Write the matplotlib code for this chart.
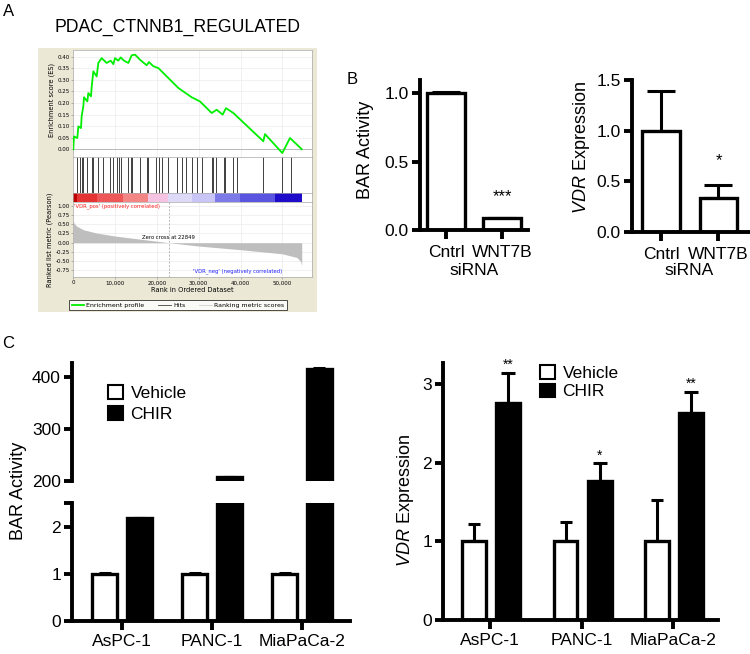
import numpy as np
import matplotlib.pyplot as plt
from matplotlib.patches import Rectangle, Patch
from matplotlib.lines import Line2D
from matplotlib.ticker import FuncFormatter

plt.rcParams['font.family'] = 'Liberation Sans'
plt.rcParams['mathtext.fontset'] = 'custom'
plt.rcParams['mathtext.it'] = 'Liberation Sans:italic'
plt.rcParams['mathtext.rm'] = 'Liberation Sans'

# ---- panel A: GSEA enrichment plot ----
es_rank = [0, 168, 965, 1204, 1843, 2002, 2400, 2560, 3357, 3596,
           4234, 4393, 4792, 5590, 5988, 6785, 7981, 8938, 9576, 9975,
           10772, 11331, 12128, 13164, 13961, 14759, 15955, 17549, 18107, 19144,
           20340, 25124, 28313, 30306, 33098, 34294, 35729, 36526, 38280, 45456,
           45855, 50000, 51834, 54626]
es_score = [0.0, 0.056, 0.049, 0.099, 0.092, 0.143, 0.186, 0.225, 0.207, 0.243,
            0.229, 0.268, 0.337, 0.315, 0.373, 0.394, 0.373, 0.383, 0.368, 0.394,
            0.383, 0.397, 0.383, 0.373, 0.406, 0.409, 0.387, 0.363, 0.377, 0.359,
            0.351, 0.265, 0.225, 0.207, 0.157, 0.171, 0.150, 0.178, 0.157, 0.035,
            0.066, -0.016, 0.049, 0.001]
hit_rank = [965, 1603, 2002, 2400, 3198, 4393, 4633, 5988, 7184, 8779,
            9576, 10373, 11012, 11331, 13164, 13802, 14121, 15955, 17709, 17948,
            19782, 20579, 21137, 22732, 24726, 25922, 26958, 28313, 29509, 30705,
            33098, 33496, 34134, 36048, 36287, 38280, 39077, 45456, 50000, 51994]
metric_rank = [0, 200, 800, 2400, 5600, 10000, 15000, 20000, 22849,
               30000, 40000, 50000, 53500, 54400, 54640]
metric_value = [0.60, 0.52, 0.45, 0.35, 0.26, 0.18, 0.11, 0.04, 0.0,
                -0.09, -0.19, -0.30, -0.40, -0.51, -0.62]
band_edges = [0, 805, 5590, 11969, 17948, 22732, 28313, 33895, 39874, 48246, 54626]
band_colors = ['#c00000', '#e33333', '#ee5757', '#f48585', '#f7c3e3',
               '#dcdaf7', '#c9c6f7', '#7c79e9', '#5a55e0', '#1f0ccb']
zero_cross = 22849

# ---- panel B ----
b_groups = ['Cntrl', 'WNT7B']
b_bar = [1.0, 0.085]
b_bar_err = [0.01, 0.0]
b_vdr = [1.0, 0.34]
b_vdr_err = [0.39, 0.12]

# ---- panel C ----
c_lines = ['AsPC-1', 'PANC-1', 'MiaPaCa-2']
c_bar_veh = [1.0, 1.0, 1.0]
c_bar_chir = [2.2, 207, 415]
c_bar_chir_err = [0.0, 1.5, 2.0]
c_vdr_veh = [1.0, 1.0, 1.0]
c_vdr_veh_err = [0.22, 0.24, 0.53]
c_vdr_chir = [2.76, 1.77, 2.63]
c_vdr_chir_err = [0.38, 0.22, 0.27]
c_vdr_stars = ['**', '*', '**']

W, H = 750, 654
fig = plt.figure(figsize=(7.5, 6.54), dpi=100)


def px_axes(x0, y0, x1, y1):
    return fig.add_axes([x0 / W, 1 - y1 / H, (x1 - x0) / W, (y1 - y0) / H])


def ftext(x, y, s, **kw):
    return fig.text(x / W, 1 - y / H, s, **kw)


# ================= A =================
fig.patches.append(Rectangle((38 / W, 1 - 312 / H), (317 - 38) / W, (312 - 48) / H,
                             transform=fig.transFigure, facecolor='#ebe8d6',
                             edgecolor='none', zorder=-1))
ftext(9, 11, 'A', fontsize=12, ha='center', va='center')
ftext(177, 27, 'PDAC_CTNNB1_REGULATED', fontsize=12.7, ha='center', va='center')

gsea_font = 'DejaVu Sans'
xmax = 57100
gsea_axes = []

es_ax = px_axes(73, 50, 312, 157)
es_ax.plot(es_rank, es_score, color='#00ee00', lw=1.3, zorder=3)
es_ax.axhline(0, color='#b0b0b0', lw=0.6)
es_ax.set_ylim(-0.033, 0.429)
es_ax.set_yticks(np.arange(0, 0.41, 0.05))
es_ax.yaxis.set_major_formatter(FuncFormatter(lambda v, p: f'{v:.2f}'))
es_ax.set_xticks(range(0, 50001, 10000))
es_ax.tick_params(axis='x', labelbottom=False, length=0)
gsea_axes.append(es_ax)

hit_ax = px_axes(73, 157, 312, 193)
hit_ax.vlines(hit_rank, 0, 1, color='#202020', lw=0.6)
hit_ax.set_ylim(0, 1)
hit_ax.set_xticks([])
hit_ax.set_yticks([])
gsea_axes.append(hit_ax)

cb_ax = px_axes(73, 193, 312, 202)
for lo, hi, c in zip(band_edges[:-1], band_edges[1:], band_colors):
    cb_ax.axvspan(lo, hi, color=c, lw=0)
cb_ax.set_xticks([])
cb_ax.set_yticks([])
gsea_axes.append(cb_ax)

met_ax = px_axes(73, 202, 312, 277)
met_ax.fill_between(metric_rank, metric_value, 0, color='#bebebe', lw=0)
met_ax.axvline(zero_cross, color='#a0a0a0', lw=0.5, ls=(0, (3, 2)))
met_ax.set_ylim(-0.927, 1.10)
met_ax.set_yticks(np.arange(-0.75, 1.01, 0.25))
met_ax.yaxis.set_major_formatter(FuncFormatter(lambda v, p: f'{v:.2f}'))
met_ax.set_xticks(range(0, 50001, 10000))
met_ax.xaxis.set_major_formatter(FuncFormatter(lambda v, p: f'{int(v):,}'))
met_ax.text(0.006, 0.95, "'VDR_pos' (positively correlated)", transform=met_ax.transAxes,
            color='#ff2020', fontsize=3.8, family=gsea_font, va='center')
met_ax.text(0.874, 0.084, "'VDR_neg' (negatively correlated)", transform=met_ax.transAxes,
            color='#2020ff', fontsize=3.8, family=gsea_font, va='center', ha='right')
met_ax.text(zero_cross, 0.15, 'Zero cross at 22849', fontsize=3.8, family=gsea_font,
            ha='center', va='center')
gsea_axes.append(met_ax)

for ax in gsea_axes:
    ax.set_xlim(-70, xmax)
    ax.set_facecolor('white')
    for s in ax.spines.values():
        s.set_color('#a8a8a8')
        s.set_linewidth(0.5)
for ax in (es_ax, met_ax):
    ax.grid(True, color='#ececec', lw=0.5)
    ax.set_axisbelow(True)
    ax.tick_params(labelsize=4, length=1.5, width=0.4, color='#808080', pad=1)
    for lab in ax.get_xticklabels() + ax.get_yticklabels():
        lab.set_family(gsea_font)

ftext(52, 100, 'Enrichment score (ES)', fontsize=4.8, family=gsea_font,
      rotation=90, ha='center', va='center')
ftext(50, 240, 'Ranked list metric (Pearson)', fontsize=4.8, family=gsea_font,
      rotation=90, ha='center', va='center')
ftext(192, 290, 'Rank in Ordered Dataset', fontsize=4.8, family=gsea_font,
      ha='center', va='center')

leg_handles = [Line2D([], [], color='#00ee00', lw=1.3),
               Line2D([], [], color='#404040', lw=0.6),
               Line2D([], [], color='#d0d0d0', lw=0.6)]
leg = fig.legend(leg_handles, ['Enrichment profile', 'Hits', 'Ranking metric scores'],
                 loc='center', bbox_to_anchor=(178 / W, 1 - 305 / H), ncol=3,
                 prop={'family': gsea_font, 'size': 4.5}, frameon=True, fancybox=False,
                 edgecolor='black', handlelength=2.0, handletextpad=0.4,
                 columnspacing=2.2, borderpad=0.35)
leg.get_frame().set_linewidth(0.6)


# ================= shared style for B, C =================
def prism_axis(ax, spines=('left', 'bottom')):
    for name, s in ax.spines.items():
        if name in spines:
            s.set_linewidth(2.8)
        else:
            s.set_visible(False)
    ax.tick_params(width=2.8, length=6, labelsize=12.5, pad=2)
    ax.set_facecolor('none')


def bars(ax, x, vals, errs, face, width, capsize):
    ax.bar(x, vals, width=width, color=face, edgecolor='black', linewidth=2.4, zorder=2)
    ax.errorbar(x, vals, yerr=[np.zeros(len(vals)), errs], fmt='none', ecolor='black',
                elinewidth=2.2, capsize=capsize, capthick=2.2, zorder=1)


# ================= B =================
ftext(352, 79, 'B', fontsize=12, ha='center', va='center')
xb = np.arange(len(b_groups))

bl = px_axes(420, 80, 528, 230)
bars(bl, xb, b_bar, b_bar_err, 'white', 0.68, 10)
bl.set_xlim(-0.464, 1.464)
bl.set_ylim(0, 1.095)
bl.set_yticks([0, 0.5, 1.0])
bl.set_yticklabels(['0.0', '0.5', '1.0'])
bl.set_xticks(xb)
bl.set_xticklabels(b_groups)
prism_axis(bl)
bl.tick_params(axis='x', pad=4, length=6.5)
bl.text(xb[1], 0.24, '***', ha='center', va='center', fontsize=12)
ftext(366, 150, 'BAR Activity', fontsize=13, rotation=90, ha='center', va='center')
ftext(474, 271, 'siRNA', fontsize=12.5, ha='center', va='center')

br = px_axes(632, 80, 760, 232)
bars(br, xb, b_vdr, b_vdr_err, 'white', 0.66, 10)
br.set_xlim(-0.504, 1.548 + 10 / 57.5)
br.set_ylim(0, 1.5)
br.set_yticks([0, 0.5, 1.0, 1.5])
br.set_yticklabels(['0.0', '0.5', '1.0', '1.5'])
br.set_xticks(xb)
br.set_xticklabels(b_groups)
prism_axis(br)
br.tick_params(axis='x', pad=4, length=6.5)
br.text(xb[1], 0.70, '*', ha='center', va='center', fontsize=12)
ftext(581, 148, r'$\it{VDR}$ Expression', fontsize=13, rotation=90, ha='center', va='center')
ftext(689, 271, 'siRNA', fontsize=12.5, ha='center', va='center')

# ================= C =================
ftext(8, 344, 'C', fontsize=12, ha='center', va='center')
xc = np.arange(len(c_lines))
veh_handle = Patch(facecolor='white', edgecolor='black', linewidth=1.5)
chir_handle = Patch(facecolor='black', edgecolor='black', linewidth=1.5)

# left: broken axis
cu = px_axes(72, 363, 350, 481)
cl = px_axes(72, 503, 350, 621)
for ax in (cu, cl):
    bars(ax, xc - 0.194, c_bar_veh, [0.02, 0.02, 0.02], 'white', 0.28, 4)
    bars(ax, xc + 0.19, c_bar_chir, c_bar_chir_err, 'black', 0.28, 4)
    ax.set_xlim(-0.556, 2.53)
cu.set_ylim(200, 427)
cu.set_yticks([200, 300, 400])
cu.set_xticks([])
prism_axis(cu, spines=('left',))
cl.set_ylim(0, 2.51)
cl.set_yticks([0, 1, 2, 2.5])
cl.set_yticklabels(['0', '1', '2', ''])
cl.set_xticks(xc)
cl.set_xticklabels(c_lines)
prism_axis(cl)
cl.tick_params(axis='x', pad=3, length=6.5)
ftext(19, 491, 'BAR Activity', fontsize=13, rotation=90, ha='center', va='center')
fig.legend([veh_handle, chir_handle], ['Vehicle', 'CHIR'], loc='upper left',
           bbox_to_anchor=(108 / W, 1 - 385 / H), frameon=False, fontsize=12.5,
           handlelength=0.85, handleheight=0.85, handletextpad=0.45,
           labelspacing=0.3, borderpad=0, borderaxespad=0)

# right
cr = px_axes(443, 363, 718, 620)
bars(cr, xc - 0.175, c_vdr_veh, c_vdr_veh_err, 'white', 0.26, 4.5)
bars(cr, xc + 0.197, c_vdr_chir, c_vdr_chir_err, 'black', 0.26, 5)
for xi, v, e, s in zip(xc, c_vdr_chir, c_vdr_chir_err, c_vdr_stars):
    cr.text(xi + 0.197, v + e + 0.1, s, ha='center', va='center', fontsize=10)
cr.set_xlim(-0.514, 2.49)
cr.set_ylim(0, 3.265)
cr.set_yticks([0, 1, 2, 3])
cr.set_xticks(xc)
cr.set_xticklabels(c_lines)
prism_axis(cr)
cr.tick_params(axis='x', pad=3, length=6.5)
ftext(405, 501, r'$\it{VDR}$ Expression', fontsize=13, rotation=90, ha='center', va='center')
fig.legend([veh_handle, chir_handle], ['Vehicle', 'CHIR'], loc='upper left',
           bbox_to_anchor=(540 / W, 1 - 365 / H), frameon=False, fontsize=12.5,
           handlelength=0.85, handleheight=0.85, handletextpad=0.45,
           labelspacing=0.15, borderpad=0, borderaxespad=0)

fig.savefig('out.png', dpi=100)
